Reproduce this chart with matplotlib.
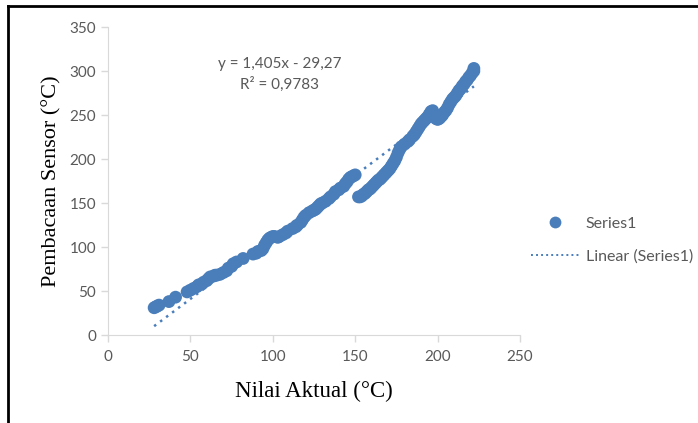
import numpy as np
import matplotlib
matplotlib.use('Agg')
import matplotlib.pyplot as plt
from matplotlib.lines import Line2D

# readings, first run (up to ~150 C)
x1 = [28, 29, 30, 31, 37, 41, 48, 50, 52, 54, 55, 57, 58, 60, 61, 62, 64, 65, 66,
      68, 70, 72, 73, 75, 76, 78, 82, 88, 90, 91, 93, 94, 95, 96, 97, 98, 99, 100,
      101, 103, 104, 106, 108, 109, 112, 114, 115, 117, 118, 119, 120, 122, 124,
      125, 126, 127, 128, 129, 130, 132, 134, 135, 137, 138, 140, 141, 143, 144,
      145, 146, 147, 148, 149, 150]
y1 = [31, 32, 33, 34, 38, 43, 49, 51, 53, 55, 57, 58, 60, 62, 64, 66, 67, 68, 68,
      69, 71, 73, 76, 78, 81, 83, 87, 92, 93, 95, 96, 98, 102, 105, 108, 110, 111,
      112, 112, 111, 112, 114, 116, 118, 121, 123, 125, 128, 131, 134, 136, 139,
      141, 142, 143, 145, 147, 149, 150, 152, 155, 157, 160, 163, 165, 167, 169,
      172, 174, 177, 179, 180, 181, 182]
# readings, second run (from ~152 C)
x2 = [152, 153, 154, 155, 156, 157, 158, 159, 160, 161, 162, 163, 164, 165, 166,
      167, 168, 169, 170, 171, 172, 173, 174, 175, 176, 177, 178, 180, 182, 183,
      185, 186, 187, 188, 189, 190, 191, 192, 193, 194, 195, 196, 197, 198, 199,
      200, 201, 202, 203, 204, 205, 206, 207, 208, 209, 210, 211, 212, 213, 214,
      215, 216, 217, 218, 219, 220, 221, 222, 222]
y2 = [157, 157, 158, 160, 161, 163, 165, 166, 168, 170, 172, 174, 176, 177, 179,
      181, 183, 185, 187, 189, 192, 195, 198, 202, 207, 211, 214, 217, 220, 222,
      226, 228, 231, 234, 237, 240, 242, 244, 246, 248, 251, 254, 255, 250, 246,
      245, 246, 248, 250, 253, 255, 258, 262, 265, 268, 270, 272, 275, 278, 280,
      283, 285, 288, 290, 293, 295, 298, 300, 303]

slope = 1.405
intercept = -29.27
r2 = 0.9783

blue = '#4a7ebb'
grey = '#595959'
tick_font = ['Lato', 'DejaVu Sans']
label_font = ['Liberation Serif', 'DejaVu Serif']

fig = plt.figure(figsize=(6.98, 4.23), dpi=100)
ax = fig.add_axes([0.1547, 0.208, 0.5903, 0.728])

xs = x1 + x2
ys = y1 + y2
pts = ax.scatter(xs, ys, s=85, color=blue, edgecolors='none', zorder=3)

xt = np.array([min(xs), max(xs)])
trend, = ax.plot(xt, slope * xt + intercept, linestyle=(0, (1, 2.0)), color=blue,
                 linewidth=1.8, zorder=2)

ax.set_xlim(0, 250)
ax.set_ylim(0, 350)
ax.set_xticks(range(0, 251, 50))
ax.set_yticks(range(0, 351, 50))
for s in ['top', 'right']:
    ax.spines[s].set_visible(False)
ax.spines['left'].set_color('#d9d9d9')
ax.spines['bottom'].set_color('#d9d9d9')
ax.tick_params(axis='both', colors='#d9d9d9', labelcolor=grey, length=5, width=1,
               labelsize=11)
for lab in ax.get_xticklabels() + ax.get_yticklabels():
    lab.set_family(tick_font)
ax.tick_params(axis='x', pad=6)

ax.set_xlabel('Nilai Aktual (°C)', family=label_font, fontsize=16.5, labelpad=12)
ax.set_ylabel('Pembacaan Sensor (°C)', family=label_font, fontsize=16, labelpad=6)

eq = 'y = {:.3f}x - {:.2f}'.format(slope, -intercept).replace('.', ',')
ax.text(104, 308, eq, ha='center', va='center', color=grey, fontsize=11,
        family=tick_font)
ax.text(104, 285, 'R² = {:.4f}'.format(r2).replace('.', ','), ha='center',
        va='center', color=grey, fontsize=11, family=tick_font)

# legend handles: smaller marker and finer dots than the plotted marks
h_pts = Line2D([], [], linestyle='none', marker='o', markersize=8.5,
               markerfacecolor=blue, markeredgecolor='none')
h_line = Line2D([], [], linestyle=(0, (1, 1.6)), color=blue, linewidth=1.4)
leg = fig.legend([h_pts, h_line], ['Series1', 'Linear (Series1)'],
                 loc='center left', bbox_to_anchor=(0.751, 0.433), frameon=False,
                 borderaxespad=0, handlelength=3.0, handletextpad=0.45,
                 labelspacing=1.15, prop={'family': tick_font, 'size': 11.5})
for t in leg.get_texts():
    t.set_color(grey)

# frame around the picture (only top and left edges visible)
fig.add_artist(Line2D([0.0115, 0.0115], [0, 0.986], transform=fig.transFigure,
                      color='black', linewidth=2))
fig.add_artist(Line2D([0.0115, 1], [0.986, 0.986], transform=fig.transFigure,
                      color='black', linewidth=2))

fig.savefig('out.png', dpi=100)
